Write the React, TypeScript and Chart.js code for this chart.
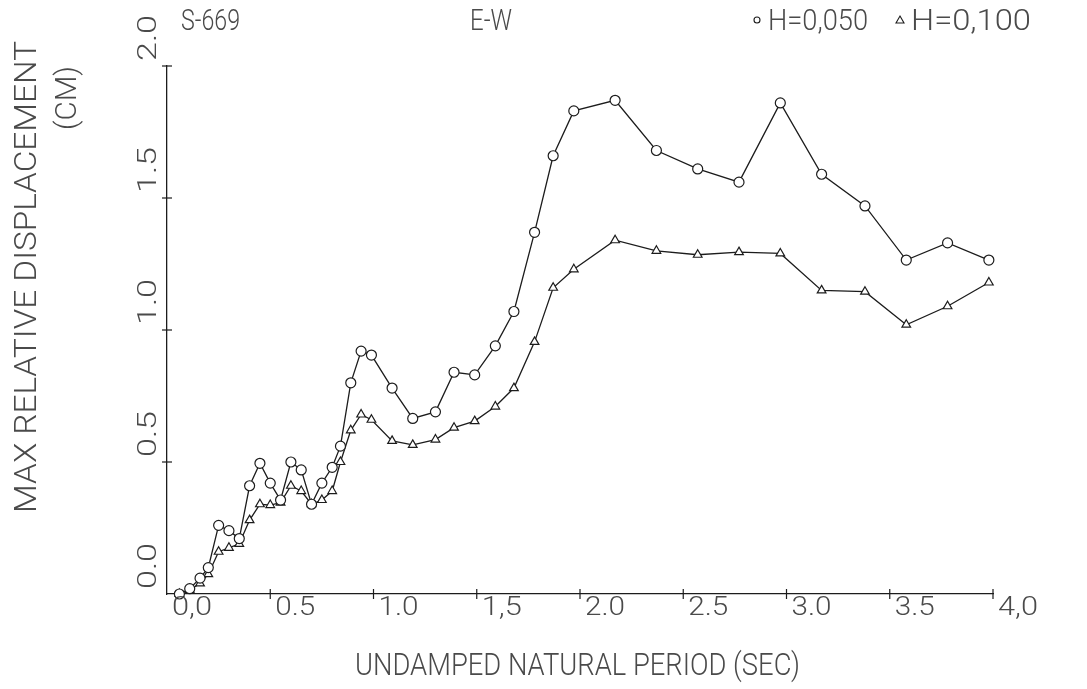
import React, { useEffect, useRef } from "react";
import { Chart, registerables } from "chart.js";

Chart.register(...registerables);

// ---- data ----
const periods = [
  0.06, 0.11, 0.16, 0.2, 0.25, 0.3, 0.35, 0.4, 0.45, 0.5,
  0.55, 0.6, 0.65, 0.7, 0.75, 0.8, 0.84, 0.89, 0.94, 0.99,
  1.09, 1.19, 1.3, 1.39, 1.49, 1.59, 1.68, 1.78, 1.87, 1.97,
  2.17, 2.37, 2.57, 2.77, 2.97, 3.17, 3.38, 3.58, 3.78, 3.98,
];
const dispH050 = [
  0.0, 0.02, 0.06, 0.1, 0.26, 0.24, 0.21, 0.41, 0.495, 0.42,
  0.356, 0.5, 0.47, 0.34, 0.42, 0.48, 0.56, 0.8, 0.92, 0.905,
  0.78, 0.665, 0.69, 0.84, 0.83, 0.94, 1.07, 1.37, 1.66, 1.83,
  1.87, 1.68, 1.61, 1.56, 1.86, 1.59, 1.47, 1.265, 1.33, 1.265,
];
const dispH100 = [
  0.0, 0.015, 0.04, 0.075, 0.16, 0.175, 0.19, 0.28, 0.34, 0.337,
  0.346, 0.41, 0.39, 0.34, 0.356, 0.39, 0.5, 0.62, 0.68, 0.66,
  0.58, 0.565, 0.585, 0.63, 0.655, 0.71, 0.78, 0.955, 1.16, 1.23,
  1.34, 1.3, 1.285, 1.295, 1.29, 1.15, 1.145, 1.02, 1.09, 1.18,
];
const xTickValues = [0, 0.5, 1, 1.5, 2, 2.5, 3, 3.5, 4];
const xTickLabels = ["0,0", "0.5", "1.0", "1,5", "2.0", "2.5", "3.0", "3.5", "4,0"];
const yTickValues = [0, 0.5, 1, 1.5, 2];
const yTickLabels = ["0.0", "0.5", "1.0", "1.5", "2.0"];
const seriesNames = ["H=0,050", "H=0,100"];
const stationLabel = "S-669";
const componentLabel = "E-W";
const xTitle = "UNDAMPED NATURAL PERIOD (SEC)";
const yTitleMain = "MAX RELATIVE DISPLACEMENT";
const yTitleUnit = "(CM)";

const INK = "#4a4a4a";
const LINE = "#1c1c1c";
const FONT = "Roboto";

function fitText(
  ctx: CanvasRenderingContext2D,
  text: string,
  x: number,
  y: number,
  width: number,
  size: number,
  rot = 0,
  align: "left" | "center" = "left"
) {
  ctx.save();
  ctx.font = `300 ${size}px ${FONT}`;
  const m = ctx.measureText(text).width;
  ctx.translate(x, y);
  ctx.rotate(rot);
  ctx.scale(width / m, 1);
  ctx.textAlign = align;
  ctx.textBaseline = "alphabetic";
  ctx.fillText(text, 0, size * 0.355);
  ctx.restore();
}

const plotterPlugin = {
  id: "plotterText",
  afterDraw(chart: any) {
    const ctx: CanvasRenderingContext2D = chart.ctx;
    const xs = chart.scales.x;
    const ys = chart.scales.y;
    const x0 = xs.left;
    const yb = ys.bottom;
    ctx.save();
    ctx.strokeStyle = LINE;
    ctx.fillStyle = INK;
    ctx.lineWidth = 1.2;
    // x ticks (crossing marks)
    xTickValues.forEach((v) => {
      if (v === 0) return;
      const px = xs.getPixelForValue(v);
      ctx.beginPath();
      ctx.moveTo(px, yb - 5);
      ctx.lineTo(px, yb + 5);
      ctx.stroke();
    });
    // y ticks
    yTickValues.forEach((v) => {
      if (v === 0) return;
      const py = ys.getPixelForValue(v);
      ctx.beginPath();
      ctx.moveTo(x0 - 5, py);
      ctx.lineTo(x0 + 5, py);
      ctx.stroke();
    });
    // x tick labels (start at the tick)
    xTickValues.forEach((v, i) => {
      const px = xs.getPixelForValue(v);
      fitText(ctx, xTickLabels[i], px + 5, yb + 12, 40, 26);
    });
    // y tick labels rotated, reading upward from the tick
    yTickValues.forEach((v, i) => {
      const py = ys.getPixelForValue(v);
      fitText(ctx, yTickLabels[i], x0 - 20, py - 5, 46, 26, -Math.PI / 2);
    });
    // axis titles
    fitText(ctx, xTitle, 355, 664, 445, 32);
    fitText(ctx, yTitleMain, 25, 513, 472, 32, -Math.PI / 2);
    fitText(ctx, yTitleUnit, 65, 130, 64, 30, -Math.PI / 2);
    // header
    fitText(ctx, stationLabel, 181, 19, 59, 30);
    fitText(ctx, componentLabel, 470, 19, 42, 30);
    // legend
    ctx.lineWidth = 1.1;
    ctx.beginPath();
    ctx.arc(757, 20, 3, 0, Math.PI * 2);
    ctx.stroke();
    fitText(ctx, seriesNames[0], 768, 19, 100, 30);
    ctx.beginPath();
    ctx.moveTo(900, 16);
    ctx.lineTo(904, 23);
    ctx.lineTo(896, 23);
    ctx.closePath();
    ctx.stroke();
    fitText(ctx, seriesNames[1], 911, 19, 120, 30);
    ctx.restore();
  },
};

export default function App() {
  const ref = useRef<HTMLCanvasElement | null>(null);
  useEffect(() => {
    if (!ref.current) return;
    const mk = (vals: number[]) => periods.map((p, i) => ({ x: p, y: vals[i] }));
    const chart = new Chart(ref.current, {
      type: "line",
      data: {
        datasets: [
          {
            label: seriesNames[0],
            data: mk(dispH050),
            borderColor: LINE,
            borderWidth: 1.3,
            pointStyle: "circle",
            pointRadius: 5,
            pointBorderWidth: 1.2,
            pointBorderColor: LINE,
            pointBackgroundColor: "#ffffff",
            tension: 0,
            fill: false,
            clip: 8,
          },
          {
            label: seriesNames[1],
            data: mk(dispH100),
            borderColor: LINE,
            borderWidth: 1.3,
            pointStyle: "triangle",
            pointRadius: 5,
            pointBorderWidth: 1.2,
            pointBorderColor: LINE,
            pointBackgroundColor: "#ffffff",
            tension: 0,
            fill: false,
            clip: 8,
          },
        ],
      },
      options: {
        animation: false,
        responsive: false,
        maintainAspectRatio: false,
        layout: { padding: { left: 167, right: 94, top: 66, bottom: 95 } },
        plugins: { legend: { display: false }, tooltip: { enabled: false } },
        scales: {
          x: {
            type: "linear",
            min: 0,
            max: 4,
            grid: { display: false },
            ticks: { display: false, stepSize: 0.5 },
            border: { display: true, color: LINE, width: 1.3 },
            afterFit: (s: any) => {
              s.height = 0;
            },
          },
          y: {
            type: "linear",
            min: 0,
            max: 2,
            grid: { display: false },
            ticks: { display: false, stepSize: 0.5 },
            border: { display: true, color: LINE, width: 1.3 },
            afterFit: (s: any) => {
              s.width = 0;
            },
          },
        },
      },
      plugins: [plotterPlugin],
    });
    return () => chart.destroy();
  }, []);
  return (
    <div style={{ position: "fixed", left: 0, top: 0, width: 1087, height: 689, background: "#fff" }}>
      <canvas ref={ref} width={1087} height={689} style={{ width: 1087, height: 689 }} />
    </div>
  );
}
